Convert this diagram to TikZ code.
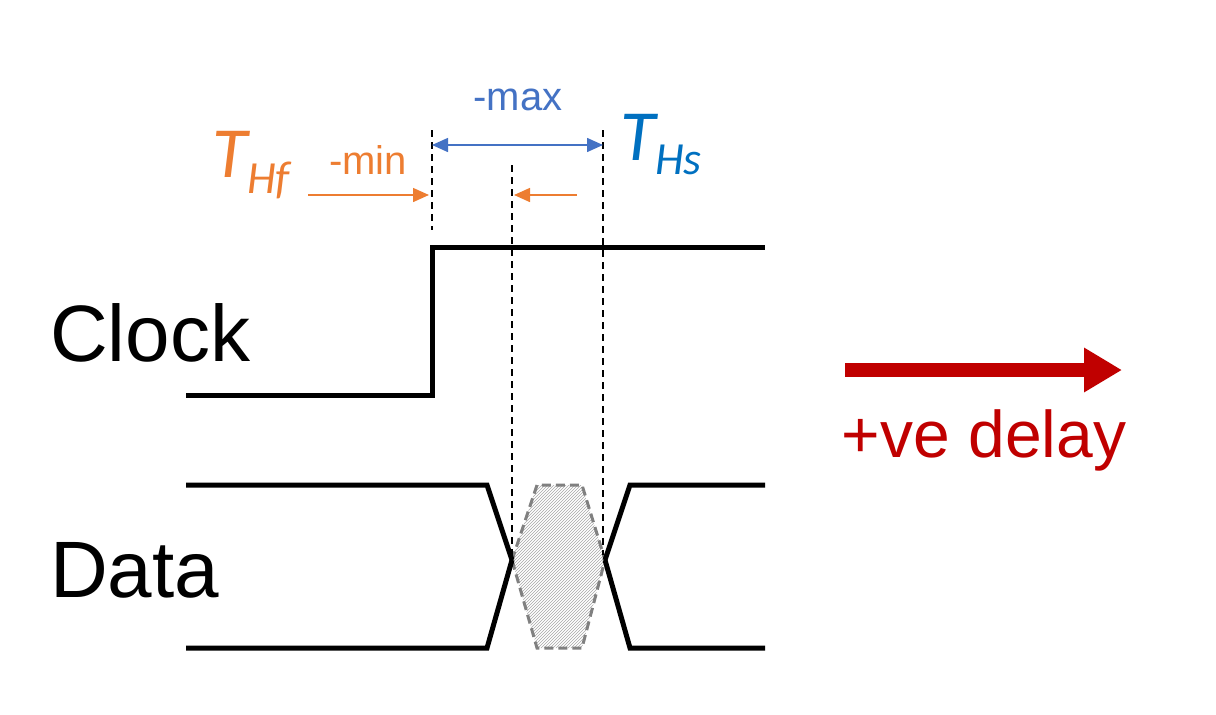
\documentclass[tikz,border=0pt]{standalone}
\usepackage{fontspec}
\setmainfont{Liberation Sans}
\newfontfamily\calfont{Carlito}
\usetikzlibrary{arrows.meta,patterns}
\definecolor{myblue}{HTML}{4472C4}
\definecolor{dblue}{HTML}{0070C0}
\definecolor{myorange}{HTML}{ED7D31}
\definecolor{myred}{HTML}{C00000}
\begin{document}
\begin{tikzpicture}[x=1pt,y=-1pt,
  sig/.style={line width=5pt,line join=miter},
  guide/.style={line width=2pt,dash pattern=on 7pt off 5pt},
  lbl/.style={inner sep=0pt,font=\fontsize{80}{90}\selectfont}]
\useasboundingbox (0,0) rectangle (1216,715);
% hatched window
\draw[pattern={north east lines},pattern color=gray!70,draw=gray,line width=3pt,dash pattern=on 9pt off 5pt]
 (512,560)--(537,485)--(582,485)--(605,560)--(582,648)--(537,648)--cycle;
% clock
\draw[sig] (186,395)--(432,395)--(432,247)--(765,247);
% data
\draw[sig] (186,485)--(487,485)--(512,560);
\draw[sig] (186,648)--(487,648)--(512,560);
\draw[sig] (765,485)--(630,485)--(605,560);
\draw[sig] (765,648)--(630,648)--(605,560);
% guides
\coordinate (g1t) at (432,130); \coordinate (g1b) at (432,230);
\coordinate (g2t) at (512,165); \coordinate (g2b) at (512,555);
\coordinate (g3t) at (603,130); \coordinate (g3b) at (603,555);
\draw[guide] (g1t)--(g1b); \draw[guide] (g2t)--(g2b); \draw[guide] (g3t)--(g3b);
% blue
\coordinate (b1) at (432,145); \coordinate (b2) at (603,145);
\draw[myblue,line width=1.5pt,{Triangle[length=16pt,width=14pt]}-{Triangle[length=16pt,width=14pt]}] (b1)--(b2);
\node[lbl,myblue,font=\fontsize{40}{46}\selectfont] (max) at (518,100) {-max};
\node[inner sep=0pt,dblue,anchor=west] (ths) at (620,145) {\calfont\itshape\fontsize{72}{80}\selectfont T\raisebox{-14pt}{\fontsize{46}{50}\selectfont Hs}};
% orange
\node[inner sep=0pt,myorange,anchor=west] (thf) at (212,165) {\calfont\itshape\fontsize{72}{80}\selectfont T\raisebox{-16pt}{\fontsize{46}{50}\selectfont Hf}};
\node[lbl,myorange,font=\fontsize{40}{46}\selectfont] (min) at (368,160) {-min};
\coordinate (o1) at (308,195); \coordinate (o2) at (429,195);
\coordinate (o3) at (577,195); \coordinate (o4) at (514,195);
\draw[myorange,line width=1.5pt,-{Triangle[length=16pt,width=14pt]}] (o1)--(o2);
\draw[myorange,line width=1.5pt,-{Triangle[length=16pt,width=14pt]}] (o3)--(o4);
% red
\coordinate (r1) at (845,370); \coordinate (r2) at (1122,370);
\draw[myred,line width=14pt,-{Triangle[length=38pt,width=42pt]}] (r1)--(r2);
\node[lbl,myred,font=\fontsize{66}{74}\selectfont] (delay) at (984,440) {+ve delay};
% labels
\node[lbl,anchor=west] (clk) at (50,333) {Clock};
\node[lbl,anchor=west] (dat) at (50,570) {Data};
\end{tikzpicture}
\end{document}
